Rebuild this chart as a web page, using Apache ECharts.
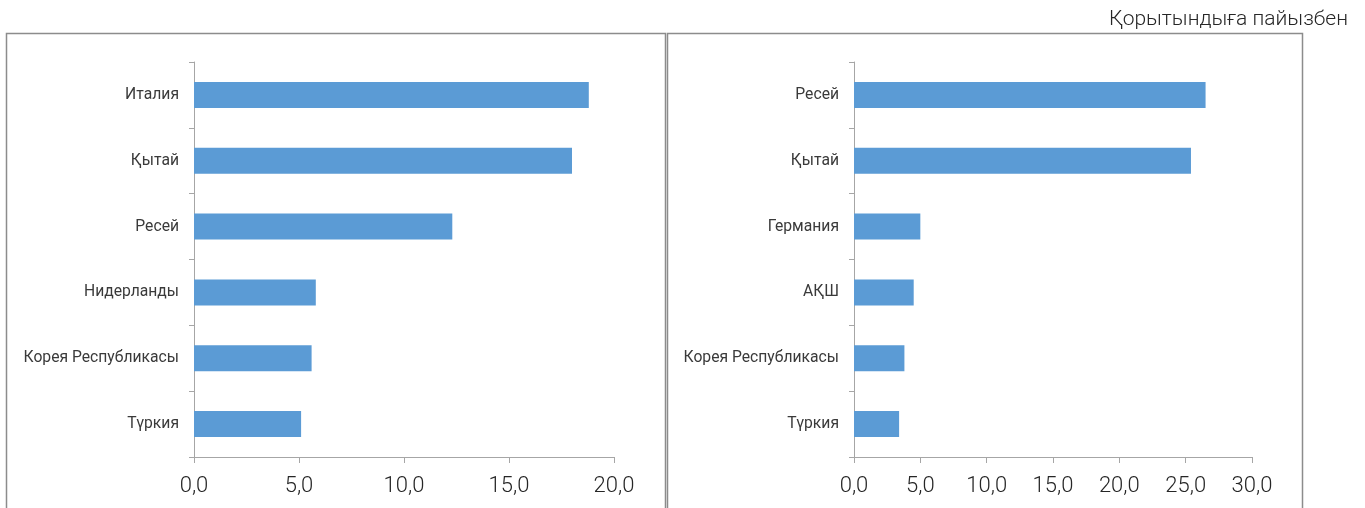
<!DOCTYPE html>
<html>
<head>
<meta charset="utf-8">
<script src="https://cdn.jsdelivr.net/npm/echarts@6/dist/echarts.min.js"></script>
<style>
html,body{margin:0;padding:0;background:#fff;}
#chart{width:1365px;height:508px;}
</style>
</head>
<body>
<div id="chart"></div>
<script>
const leftCategories = ['Италия', 'Қытай', 'Ресей', 'Нидерланды', 'Корея Республикасы', 'Түркия'];
const leftValues = [18.8, 18.0, 12.3, 5.8, 5.6, 5.1];
const rightCategories = ['Ресей', 'Қытай', 'Германия', 'АҚШ', 'Корея Республикасы', 'Түркия'];
const rightValues = [26.5, 25.4, 5.0, 4.5, 3.8, 3.4];
const leftTicks = [0, 5, 10, 15, 20];
const rightTicks = [0, 5, 10, 15, 20, 25, 30];
const unitNote = 'Қорытындыға пайызбен';

const chart = echarts.init(document.getElementById('chart'), null, {renderer: 'canvas'});
const barColor = '#5B9BD5';
const axisColor = '#A6A6A6';
const fmt = v => v.toFixed(1).replace('.', ',');

function valueAxis(gridIndex, ticks) {
  return {
    type: 'value', gridIndex: gridIndex,
    min: ticks[0], max: ticks[ticks.length - 1], interval: ticks[1] - ticks[0],
    axisLine: {show: true, lineStyle: {color: axisColor, width: 1}},
    axisTick: {show: true, length: 6, lineStyle: {color: axisColor}},
    splitLine: {show: false},
    axisLabel: {formatter: fmt, color: '#262626', fontFamily: 'Roboto', fontWeight: 300, fontSize: 22, margin: 18}
  };
}
function catAxis(gridIndex, cats) {
  return {
    type: 'category', gridIndex: gridIndex, data: cats, inverse: true,
    axisLine: {show: true, lineStyle: {color: axisColor, width: 1}},
    axisTick: {show: true, length: 5, alignWithLabel: false, lineStyle: {color: axisColor}},
    axisLabel: {color: '#3a3a3a', fontFamily: 'Roboto', fontSize: 15.7, margin: 15}
  };
}

chart.setOption({
  animation: false,
  backgroundColor: '#fff',
  grid: [
    {left: 194, right: 751, top: 62, bottom: 51},
    {left: 854, right: 113, top: 62, bottom: 51}
  ],
  xAxis: [valueAxis(0, leftTicks), valueAxis(1, rightTicks)],
  yAxis: [catAxis(0, leftCategories), catAxis(1, rightCategories)],
  series: [
    {type: 'bar', xAxisIndex: 0, yAxisIndex: 0, data: leftValues, barWidth: 26,
     itemStyle: {color: barColor}},
    {type: 'bar', xAxisIndex: 1, yAxisIndex: 1, data: rightValues, barWidth: 26,
     itemStyle: {color: barColor}}
  ],
  graphic: [
    {type: 'polyline', silent: true, shape: {points: [[6.5, 520], [6.5, 33.5], [665.5, 33.5], [665.5, 520]]},
     style: {fill: null, stroke: '#8C8C8C', lineWidth: 1.5}},
    {type: 'polyline', silent: true, shape: {points: [[667.5, 520], [667.5, 33.5], [1302.5, 33.5], [1302.5, 520]]},
     style: {fill: null, stroke: '#8C8C8C', lineWidth: 1.5}},
    {type: 'text', right: 17, top: 9, silent: true,
     style: {text: unitNote, fill: '#262626', font: '300 21px Roboto'}}
  ]
});
</script>
</body>
</html>
